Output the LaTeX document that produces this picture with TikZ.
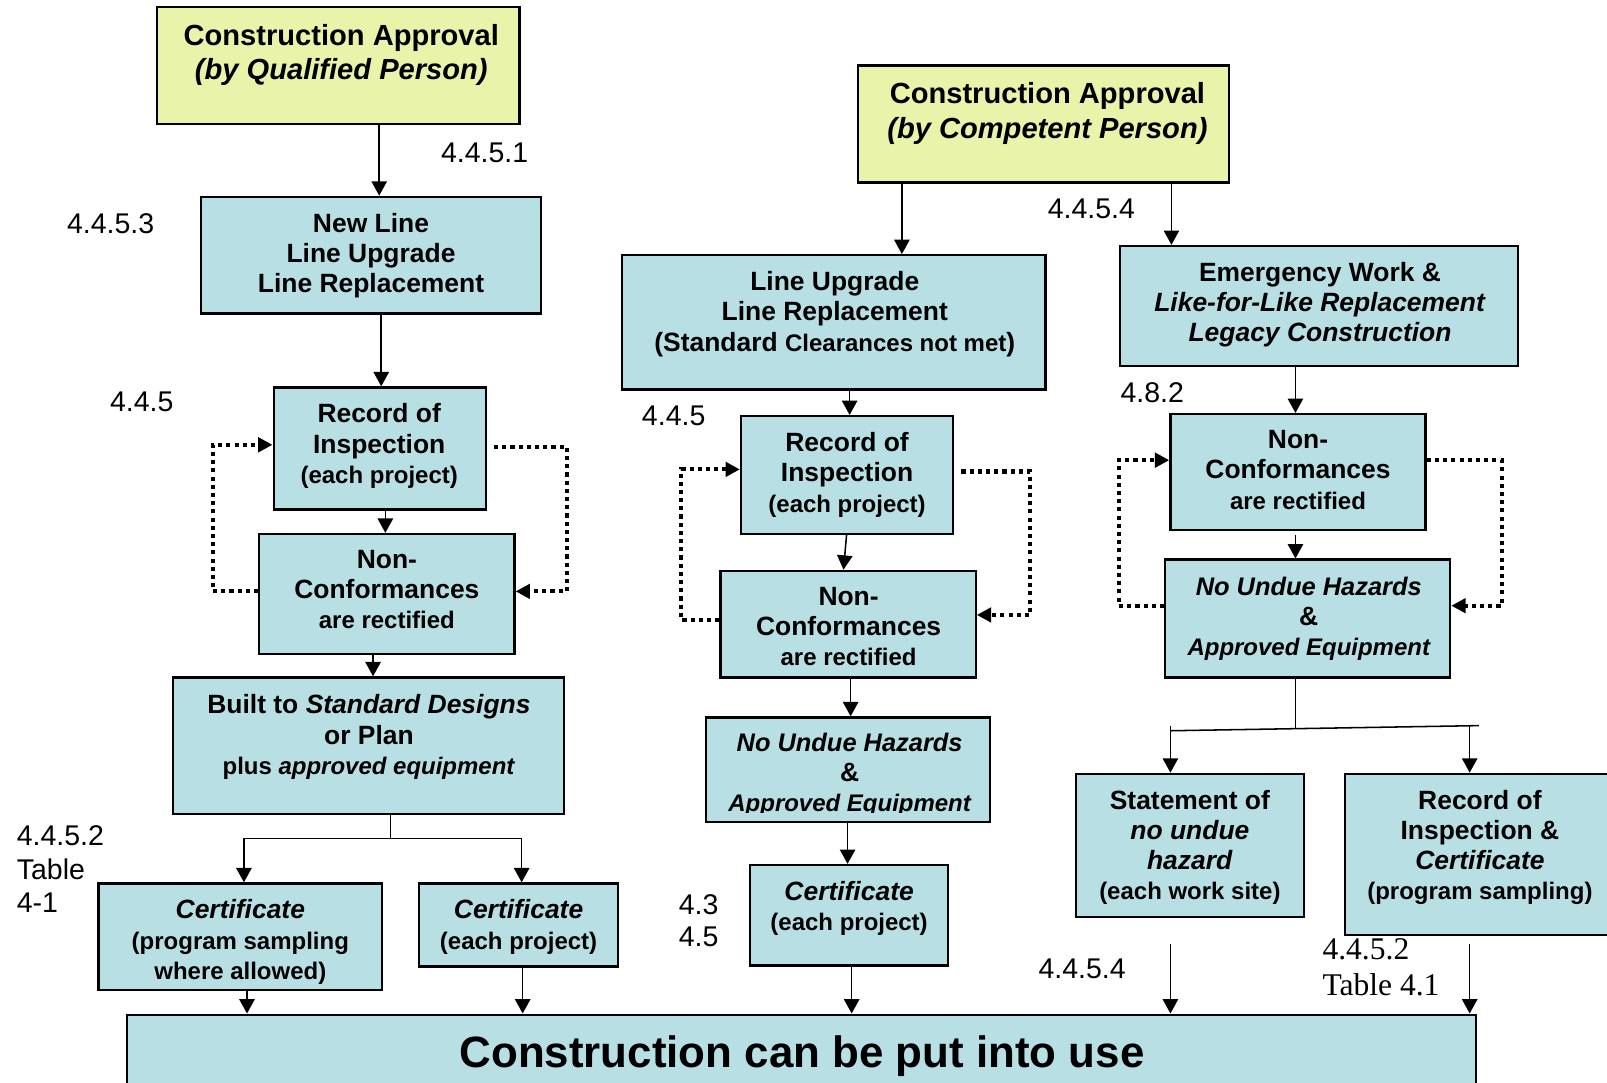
\documentclass[tikz,border=0pt]{standalone}
\usepackage{fontspec}
\setmainfont{Liberation Sans}
\newfontfamily\serifnum{Liberation Serif}
\usetikzlibrary{arrows.meta,fit}
\definecolor{boxblue}{RGB}{184,224,228}
\definecolor{boxyellow}{RGB}{233,244,170}
\newcommand\mtxt{\fontsize{12.9}{14.75}\selectfont}
\newcommand\stxt{\fontsize{11.7}{14.75}\selectfont}
\newcommand\ntxt{\fontsize{12.4}{14.75}\selectfont}
\newcommand\ttxt{\fontsize{14.2}{17}\selectfont}
\begin{document}
\begin{tikzpicture}[x=0.5pt,y=-0.5pt,
 box/.style={draw=black,line width=1.1pt,fill=boxblue,inner sep=0pt},
 ybox/.style={box,fill=boxyellow},
 txt/.style={align=center,inner sep=0pt,anchor=north,font=\bfseries\mtxt},
 arr/.style={line width=0.75pt,-{Triangle[length=7pt,width=7.5pt]}},
 ln/.style={line width=0.75pt},
 dotarr/.style={line width=2pt,dash pattern=on 2pt off 2pt,-{Triangle[length=7pt,width=7pt]}},
 lbl/.style={font=\fontsize{13.9}{16.5}\selectfont,inner sep=0pt,anchor=west},
]
\useasboundingbox (0,0) rectangle (1568,1056);
\clip (0,0) rectangle (1568,1056);
\fill[white] (0,0) rectangle (1568,1056);

% boxes
\node[ybox,fit={(153,7) (507,121)}] (qp) {};
\node[ybox,fit={(837,64) (1199,178)}] (cp) {};
\node[box,fit={(196,192) (528,306)}] (nl) {};
\node[box,fit={(267,378) (474,497)}] (rec1) {};
\node[box,fit={(253,521) (502,638)}] (nc1) {};
\node[box,fit={(169,661) (550,794)}] (built) {};
\node[box,fit={(96,862) (373,966)}] (c1a) {};
\node[box,fit={(409,862) (603,943)}] (c1b) {};
\node[box,fit={(607,249) (1020,380)}] (lu) {};
\node[box,fit={(723,406) (930,521)}] (rec2) {};
\node[box,fit={(703,557) (952,661)}] (nc2) {};
\node[box,fit={(689,700) (966,802)}] (nuh2) {};
\node[box,fit={(732,844) (925,942)}] (c2) {};
\node[box,fit={(1093,240) (1481,357)}] (em) {};
\node[box,fit={(1142,404) (1391,517)}] (nc3) {};
\node[box,fit={(1137,546) (1415,661)}] (nuh3) {};
\node[box,fit={(1050,755) (1272,895)}] (st) {};
\node[box,fit={(1312,755) (1590,912)}] (rec3) {};
\node[box,fit={(124,990) (1440,1080)}] (fin) {};

% texts
\node[txt,font=\bfseries\ttxt] (t-qp) at (333,23) {Construction Approval\\\textit{(by Qualified Person)}};
\node[txt,font=\bfseries\ttxt] (t-cp) at (1022,80) {Construction Approval\\\textit{(by Competent Person)}};
\node[txt] (t-nl) at (362,207.5) {New Line\\Line Upgrade\\Line Replacement};
\node[txt] (t-rec1) at (370,393.5) {Record of\\Inspection\\{\stxt (each project)}};
\node[txt] (t-nc1) at (377.5,536.5) {Non-\\Conformances\\{\stxt are rectified}};
\node[txt] (t-built) at (360,677.5) {Built to \textit{Standard Designs}\\or Plan\\{\stxt plus \textit{approved equipment}}};
\node[txt] (t-c1a) at (234.5,877.5) {\textit{Certificate}\\{\stxt (program sampling}\\{\stxt where allowed)}};
\node[txt] (t-c1b) at (506,877.5) {\textit{Certificate}\\{\stxt (each project)}};
\node[txt] (t-lu) at (814.5,264.5) {Line Upgrade\\Line Replacement\\(Standard {\stxt Clearances not met})};
\node[txt] (t-rec2) at (826.5,421.5) {Record of\\Inspection\\{\stxt (each project)}};
\node[txt] (t-nc2) at (828,572.5) {Non-\\Conformances\\{\stxt are rectified}};
\begin{scope}
\clip (689,700) rectangle (966,793);
\node[txt] (t-nuh2) at (829,714.5) {{\ntxt\itshape No Undue Hazards}\\\&\\{\stxt\itshape Approved Equipment}};
\end{scope}
\node[txt] (t-c2) at (828.5,859.5) {\textit{Certificate}\\{\stxt (each project)}};
\node[txt] (t-em) at (1288,255.5) {Emergency Work \&\\\textit{Like-for-Like Replacement}\\\textit{Legacy Construction}};
\node[txt] (t-nc3) at (1266.5,419.5) {Non-\\Conformances\\{\stxt are rectified}};
\node[txt] (t-nuh3) at (1277,562.5) {{\ntxt\itshape No Undue Hazards}\\\&\\{\stxt\itshape Approved Equipment}};
\node[txt] (t-st) at (1161,770.5) {Statement of\\\textit{no undue}\\\textit{hazard}\\{\stxt (each work site)}};
\node[txt] (t-rec3) at (1444,770.5) {Record of\\Inspection \&\\\textit{Certificate}\\{\stxt (program sampling)}};
\node[inner sep=0pt,anchor=base,font=\bfseries\fontsize{21.4}{25}\selectfont] (t-fin) at (782.5,1042) {Construction can be put into use};

% labels
\node[lbl] (l1) at (430,149) {4.4.5.1};
\node[lbl] (l2) at (65,218) {4.4.5.3};
\node[lbl] (l3) at (107,392) {4.4.5};
\node[lbl] (l4) at (626,406) {4.4.5};
\node[lbl] (l5) at (1022,204) {4.4.5.4};
\node[lbl] (l6) at (1093,383) {4.8.2};
\node[lbl,anchor=north west,align=left] (l7) at (16,805) {4.4.5.2\\Table\\4-1};
\node[lbl,anchor=north west,align=left,font=\fontsize{13.9}{16}\selectfont] (l8) at (662,872) {4.3\\4.5};
\node[lbl] (l9) at (1013,945) {4.4.5.4};
\node[lbl,anchor=north west,align=left,font=\serifnum\fontsize{15.4}{18}\selectfont] (l10) at (1290,915) {4.4.5.2\\Table 4.1};

% left column arrows
\draw[arr] ([xshift=20pt]qp.south) -- ([xshift=20pt]qp.south |- nl.north);
\draw[arr] ([xshift=5pt]nl.south) -- ([xshift=5pt]nl.south |- rec1.north);
\draw[arr] ([xshift=2.75pt]rec1.south) -- ([xshift=2.75pt]rec1.south |- nc1.north);
\draw[arr] ([xshift=-6.75pt]nc1.south) -- ([xshift=-6.75pt]nc1.south |- built.north);
\coordinate (j1) at (381,818);
\coordinate (b1l) at (238,818);
\coordinate (b1r) at (509,818);
\draw[ln] ([xshift=10.75pt]built.south) -- (j1);
\draw[ln] (b1l) -- (b1r);
\draw[arr] (b1l) -- (b1l |- c1a.north);
\draw[arr] (b1r) -- (b1r |- c1b.north);
\draw[arr] ([xshift=3.25pt]c1a.south) -- ([xshift=3.25pt]c1a.south |- fin.north);
\draw[arr] ([xshift=2pt]c1b.south) -- ([xshift=2pt]c1b.south |- fin.north);
\draw[dotarr] ([yshift=1.25pt]nc1.west) -- ++(-44,0) |- ([yshift=1.75pt]rec1.west);
\draw[dotarr] ([yshift=0.75pt,xshift=3.5pt]rec1.east) -- ++(71,0) |- ([yshift=1.25pt]nc1.east);

% middle column arrows
\draw[arr] ([xshift=-69pt]cp.south) -- ([xshift=-69pt]cp.south |- lu.north);
\draw[arr] ([xshift=62.5pt]cp.south) -- ([xshift=62.5pt]cp.south |- em.north);
\draw[arr] ([xshift=7.75pt]lu.south) -- ([xshift=7.75pt]lu.south |- rec2.north);
\draw[arr] ([xshift=-0.25pt]rec2.south) -- ([xshift=-2.25pt]nc2.north);
\draw[arr] ([xshift=1.25pt]nc2.south) -- ([xshift=1.25pt]nc2.south |- nuh2.north);
\draw[arr] ([xshift=-0.25pt]nuh2.south) -- ([xshift=-0.25pt]nuh2.south |- c2.north);
\draw[arr] ([xshift=1.25pt]c2.south) -- ([xshift=1.25pt]c2.south |- fin.north);
\draw[dotarr] ([yshift=2pt]nc2.west) -- ++(-37,0) |- ([yshift=2.75pt]rec2.west);
\draw[dotarr] ([yshift=1.75pt,xshift=3.5pt]rec2.east) -- ++(67,0) |- ([yshift=4.5pt]nc2.east);

% right column arrows
\draw[arr] ([xshift=-11.5pt]em.south) -- ([xshift=-11.5pt]em.south |- nc3.north);
\draw[arr] ([xshift=-1.25pt,yshift=-2pt]nc3.south) -- ([xshift=-1.25pt]nc3.south |- nuh3.north);
\draw[dotarr] ([yshift=6.25pt]nuh3.west) -- ++(-44,0) |- ([yshift=5.75pt]nc3.west);
\draw[dotarr] ([yshift=5.75pt]nc3.east) -- ++(73,0) |- ([yshift=6.25pt]nuh3.east);
\coordinate (j3) at (1264,710.5);
\coordinate (b3l) at (1142,713);
\coordinate (b3r) at (1443,708);
\coordinate (b3lt) at (1142,708);
\coordinate (b3a) at (1434,708.2);
\draw[ln] ([xshift=-6pt]nuh3.south) -- (j3);
\draw[ln] (b3l) -- (b3r);
\draw[arr] (b3lt) -- (b3lt |- st.north);
\draw[arr] (b3a) -- (b3a |- rec3.north);
\draw[arr] ([xshift=-9.5pt,yshift=-12.5pt]st.south) -- ([xshift=-9.5pt]st.south |- fin.north);
\draw[arr] ([xshift=-8.5pt,yshift=-4pt]rec3.south) -- ([xshift=-8.5pt]rec3.south |- fin.north);
\end{tikzpicture}
\end{document}
